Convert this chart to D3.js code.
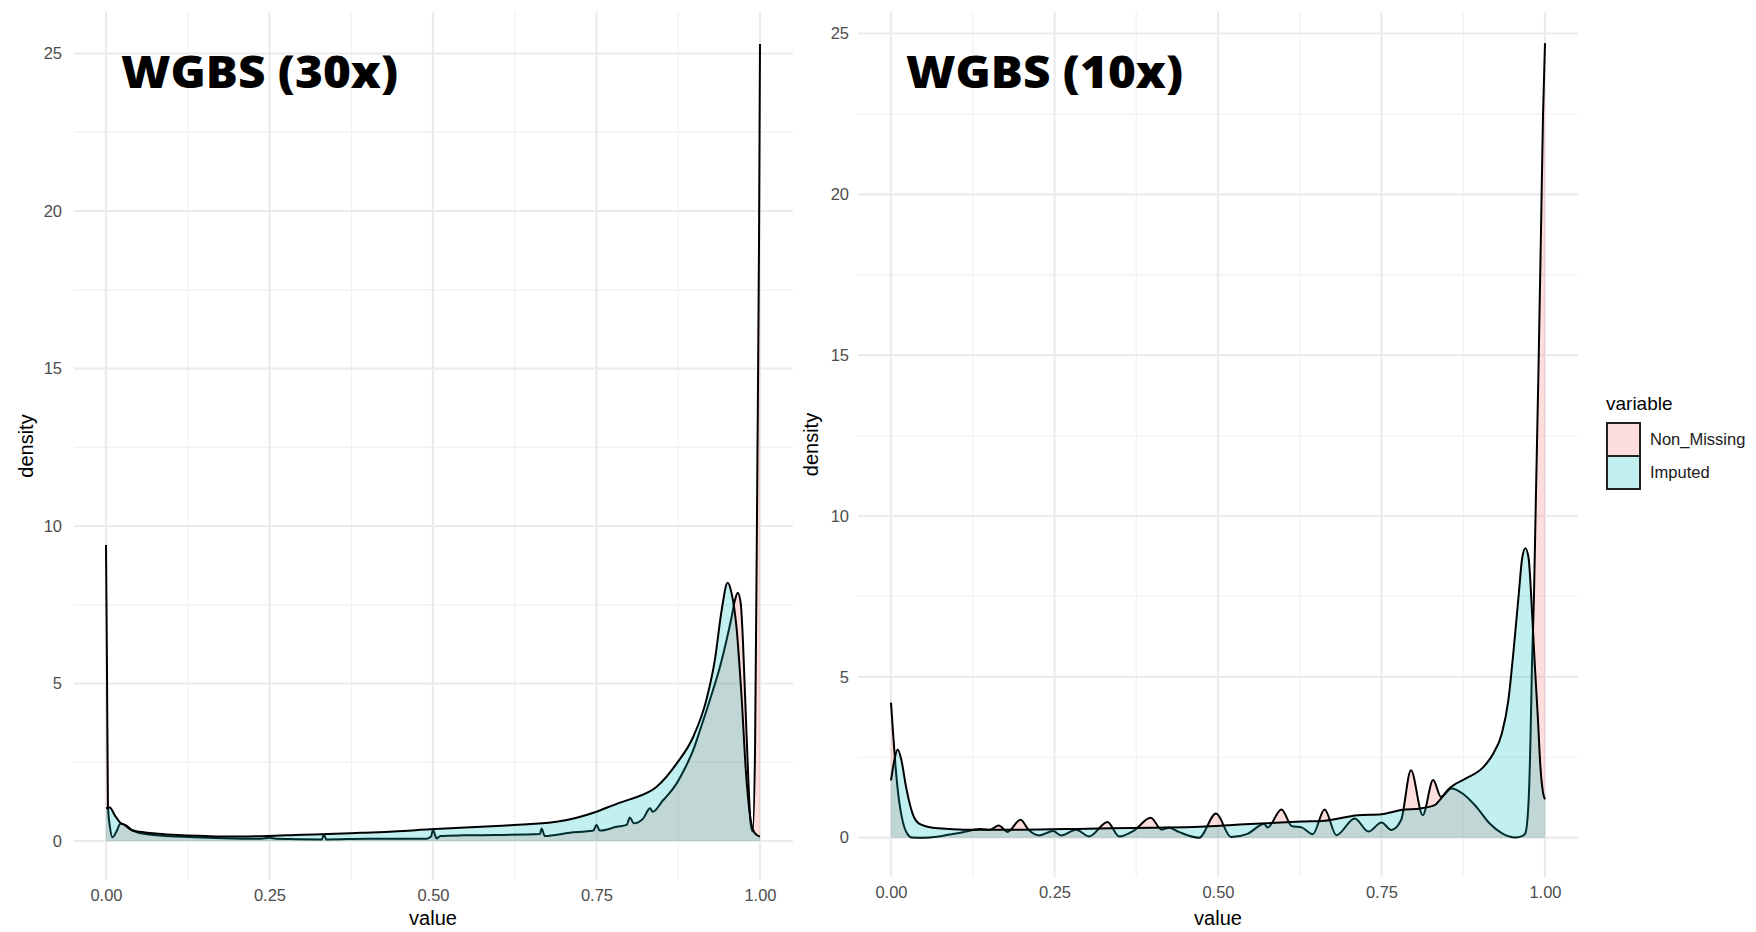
<!DOCTYPE html>
<html>
<head>
<meta charset="utf-8">
<script src="https://cdn.jsdelivr.net/npm/d3@7"></script>
<style>
  body { margin: 0; background: #fff; }
  svg { display: block; font-family: "Liberation Sans", Arial, Helvetica, sans-serif; }
</style>
</head>
<body>
<svg id="chart" width="1756" height="932"></svg>
<script>
var seriesNames = ["Non_Missing", "Imputed"];
var seriesColors = ["#F8766D", "#00BFC4"];
var xTicks = [0, 0.25, 0.5, 0.75, 1];
var xMinor = [0.125, 0.375, 0.625, 0.875];
var yTicks = [0, 5, 10, 15, 20, 25];
var yMinor = [2.5, 7.5, 12.5, 17.5, 22.5];

// [value, density]
var nonMissing30 = [
  [0, 9.4], [0.0015, 5.5], [0.003, 1.1], [0.006, 0.45], [0.01, 0.12], [0.016, 0.3],
  [0.022, 0.55], [0.03, 0.5], [0.04, 0.34], [0.06, 0.22], [0.1, 0.15], [0.135, 0.12],
  [0.18, 0.09], [0.237, 0.07], [0.25, 0.1], [0.26, 0.07], [0.33, 0.05], [0.333, 0.21],
  [0.337, 0.05], [0.4, 0.07], [0.49, 0.07], [0.497, 0.14], [0.5, 0.35], [0.5056, 0.08],
  [0.511, 0.16], [0.546, 0.18], [0.597, 0.19], [0.6636, 0.22], [0.666, 0.4], [0.671, 0.16],
  [0.709, 0.26], [0.745, 0.33], [0.75, 0.51], [0.755, 0.33], [0.781, 0.45], [0.796, 0.51],
  [0.801, 0.75], [0.807, 0.56], [0.8216, 0.72], [0.8318, 1.04], [0.836, 0.93], [0.852, 1.3],
  [0.858, 1.43], [0.8726, 1.83], [0.885, 2.3], [0.898, 2.89], [0.908, 3.5], [0.9185, 4.16],
  [0.929, 4.85], [0.9388, 5.53], [0.948, 6.3], [0.9567, 7.12], [0.9618, 7.65], [0.966, 7.88],
  [0.9705, 7.55], [0.974, 6.3], [0.977, 4.69], [0.982, 2.04], [0.9857, 0.56], [0.9888, 0.3],
  [0.9925, 3], [0.996, 12], [0.9985, 19], [1, 25.3]
];
var imputed30 = [
  [0, 1.04], [0.006, 1.06], [0.013, 0.83], [0.021, 0.6], [0.029, 0.5], [0.039, 0.35],
  [0.06, 0.27], [0.08, 0.23], [0.11, 0.19], [0.15, 0.16], [0.186, 0.14], [0.247, 0.16],
  [0.3, 0.2], [0.339, 0.22], [0.39, 0.26], [0.44, 0.3], [0.4954, 0.37], [0.597, 0.48],
  [0.689, 0.61], [0.75, 0.93], [0.781, 1.18], [0.801, 1.32], [0.842, 1.72], [0.873, 2.47],
  [0.898, 3.31], [0.918, 4.48], [0.931, 5.75], [0.9414, 7.33], [0.9505, 8.2], [0.9566, 7.86],
  [0.964, 6.8], [0.9715, 4.69], [0.979, 2.04], [0.9857, 0.67], [0.9924, 0.24], [1, 0.14]
];
var nonMissing10 = [
  [0, 4.2], [0.003, 3.3], [0.007, 2.2], [0.012, 1.2], [0.018, 0.5], [0.025, 0.12],
  [0.032, 0.01], [0.05, 0.0], [0.07, 0.03], [0.09, 0.1], [0.11, 0.17], [0.125, 0.24],
  [0.137, 0.27], [0.15, 0.24], [0.165, 0.38], [0.178, 0.18], [0.198, 0.56], [0.211, 0.23],
  [0.227, 0.07], [0.248, 0.21], [0.26, 0.07], [0.283, 0.25], [0.303, 0.04], [0.331, 0.49],
  [0.349, 0.04], [0.372, 0.23], [0.397, 0.62], [0.414, 0.25], [0.425, 0.31], [0.44, 0.18],
  [0.471, 0.0], [0.497, 0.75], [0.52, 0.02], [0.545, 0.12], [0.565, 0.39], [0.57, 0.43],
  [0.576, 0.32], [0.597, 0.88], [0.613, 0.36], [0.628, 0.32], [0.645, 0.11], [0.663, 0.88],
  [0.681, 0.08], [0.709, 0.6], [0.73, 0.19], [0.75, 0.47], [0.765, 0.24], [0.78, 0.55],
  [0.795, 2.1], [0.813, 0.7], [0.829, 1.79], [0.841, 1.27], [0.857, 1.53], [0.875, 1.36],
  [0.895, 0.96], [0.915, 0.45], [0.935, 0.13], [0.955, 0.01], [0.965, 0.05], [0.97, 0.14],
  [0.975, 1.17], [0.978, 3.24], [0.98, 5.3], [0.983, 7.4], [0.986, 10.5], [0.99, 14.5],
  [0.994, 19], [0.997, 22.5], [1, 24.7]
];
var imputed10 = [
  [0, 1.78], [0.005, 2.4], [0.0102, 2.74], [0.016, 2.4], [0.023, 1.58], [0.033, 0.75],
  [0.043, 0.44], [0.064, 0.31], [0.09, 0.27], [0.11, 0.25], [0.2, 0.25], [0.3, 0.28],
  [0.4, 0.31], [0.4725, 0.34], [0.533, 0.41], [0.628, 0.5], [0.663, 0.53], [0.714, 0.7],
  [0.75, 0.73], [0.78, 0.86], [0.81, 0.91], [0.832, 1.02], [0.839, 1.17], [0.852, 1.5],
  [0.863, 1.67], [0.88, 1.85], [0.906, 2.2], [0.921, 2.62], [0.934, 3.24], [0.944, 4.28],
  [0.952, 5.83], [0.96, 7.6], [0.965, 8.68], [0.97, 9.0], [0.975, 8.68], [0.98, 7.08],
  [0.984, 5.52], [0.989, 3.76], [0.993, 2.2], [0.997, 1.4], [1, 1.19]
];

var panels = [
  {title: "WGBS (30x)", series: [nonMissing30, imputed30],
   box: {left: 74, right: 793, top: 12, bottom: 880},
   xRange: [106, 760], yRange: [841, 53.5], titleX: 121, yLabelX: 33, tickGap: 12},
  {title: "WGBS (10x)", series: [nonMissing10, imputed10],
   box: {left: 858, right: 1578, top: 12, bottom: 877},
   xRange: [891, 1545], yRange: [837.7, 33.5], titleX: 906, yLabelX: 818, tickGap: 9}
];

var svg = d3.select("#chart");
var fillOpacity = 0.24;

function drawPanel(p) {
    var x = d3.scaleLinear().domain([0, 1]).range(p.xRange);
    var y = d3.scaleLinear().domain([0, 25]).range(p.yRange);
    var g = svg.append("g");

    // grid
    g.selectAll(".yminor").data(yMinor).enter().append("line")
        .attr("x1", p.box.left).attr("x2", p.box.right)
        .attr("y1", function(d) { return y(d); }).attr("y2", function(d) { return y(d); })
        .attr("stroke", "#f2f2f2").attr("stroke-width", 1.3);
    g.selectAll(".xminor").data(xMinor).enter().append("line")
        .attr("y1", p.box.top).attr("y2", p.box.bottom)
        .attr("x1", function(d) { return x(d); }).attr("x2", function(d) { return x(d); })
        .attr("stroke", "#f2f2f2").attr("stroke-width", 1.3);
    g.selectAll(".ymajor").data(yTicks).enter().append("line")
        .attr("x1", p.box.left).attr("x2", p.box.right)
        .attr("y1", function(d) { return y(d); }).attr("y2", function(d) { return y(d); })
        .attr("stroke", "#ebebeb").attr("stroke-width", 2.2);
    g.selectAll(".xmajor").data(xTicks).enter().append("line")
        .attr("y1", p.box.top).attr("y2", p.box.bottom)
        .attr("x1", function(d) { return x(d); }).attr("x2", function(d) { return x(d); })
        .attr("stroke", "#ebebeb").attr("stroke-width", 2.2);

    var area = d3.area()
        .x(function(d) { return x(d[0]); })
        .y0(y(0))
        .y1(function(d) { return y(d[1]); })
        .curve(d3.curveMonotoneX);
    var line = d3.line()
        .x(function(d) { return x(d[0]); })
        .y(function(d) { return y(d[1]); })
        .curve(d3.curveMonotoneX);

    p.series.forEach(function(s, i) {
        g.append("path").datum(s)
            .attr("d", area)
            .attr("fill", seriesColors[i])
            .attr("fill-opacity", fillOpacity);
        g.append("path").datum(s)
            .attr("d", line)
            .attr("fill", "none")
            .attr("stroke", "#000")
            .attr("stroke-width", 2)
            .attr("stroke-linejoin", "round");
    });

    // axes (theme_minimal: labels only)
    var yAxis = d3.axisLeft(y).tickValues(yTicks).tickSize(0).tickPadding(0);
    g.append("g")
        .attr("transform", "translate(" + (p.box.left - p.tickGap) + ",0)")
        .call(yAxis)
        .call(function(a) { a.select(".domain").remove(); })
        .selectAll("text")
            .attr("fill", "#4d4d4d")
            .style("font-size", "16.5px");

    var xAxis = d3.axisBottom(x).tickValues(xTicks).tickFormat(d3.format(".2f")).tickSize(0).tickPadding(0);
    g.append("g")
        .attr("transform", "translate(0," + (p.box.bottom + 9) + ")")
        .call(xAxis)
        .call(function(a) { a.select(".domain").remove(); })
        .selectAll("text")
            .attr("fill", "#4d4d4d")
            .style("font-size", "16.5px");

    g.append("text")
        .attr("x", x(0.5)).attr("y", 925)
        .attr("text-anchor", "middle")
        .style("font-size", "20px")
        .attr("fill", "#000")
        .text("value");

    g.append("text")
        .attr("transform", "translate(" + p.yLabelX + "," + ((p.box.top + p.box.bottom) / 2) + ") rotate(-90)")
        .attr("text-anchor", "middle")
        .style("font-size", "20px")
        .attr("fill", "#000")
        .text("density");

    g.append("text")
        .attr("x", p.titleX).attr("y", 88)
        .attr("textLength", 277)
        .attr("lengthAdjust", "spacingAndGlyphs")
        .style("font-family", "'Open Sans', sans-serif")
        .style("font-weight", 800)
        .style("font-size", "45px")
        .attr("fill", "#000")
        .text(p.title);
}

panels.forEach(drawPanel);

// legend
var legend = svg.append("g").attr("transform", "translate(1607,0)");
legend.append("text")
    .attr("x", -1).attr("y", 410)
    .style("font-size", "19px")
    .text("variable");
seriesNames.forEach(function(name, i) {
    var top = 423 + i * 33;
    legend.append("rect")
        .attr("x", 0).attr("y", top)
        .attr("width", 33).attr("height", 33)
        .attr("fill", "#fff");
    legend.append("rect")
        .attr("x", 0).attr("y", top)
        .attr("width", 33).attr("height", 33)
        .attr("fill", seriesColors[i])
        .attr("fill-opacity", fillOpacity)
        .attr("stroke", "#222")
        .attr("stroke-width", 2);
    legend.append("text")
        .attr("x", 43).attr("y", top + 22)
        .style("font-size", "16.5px")
        .attr("fill", "#1a1a1a")
        .text(name);
});
</script>
</body>
</html>
